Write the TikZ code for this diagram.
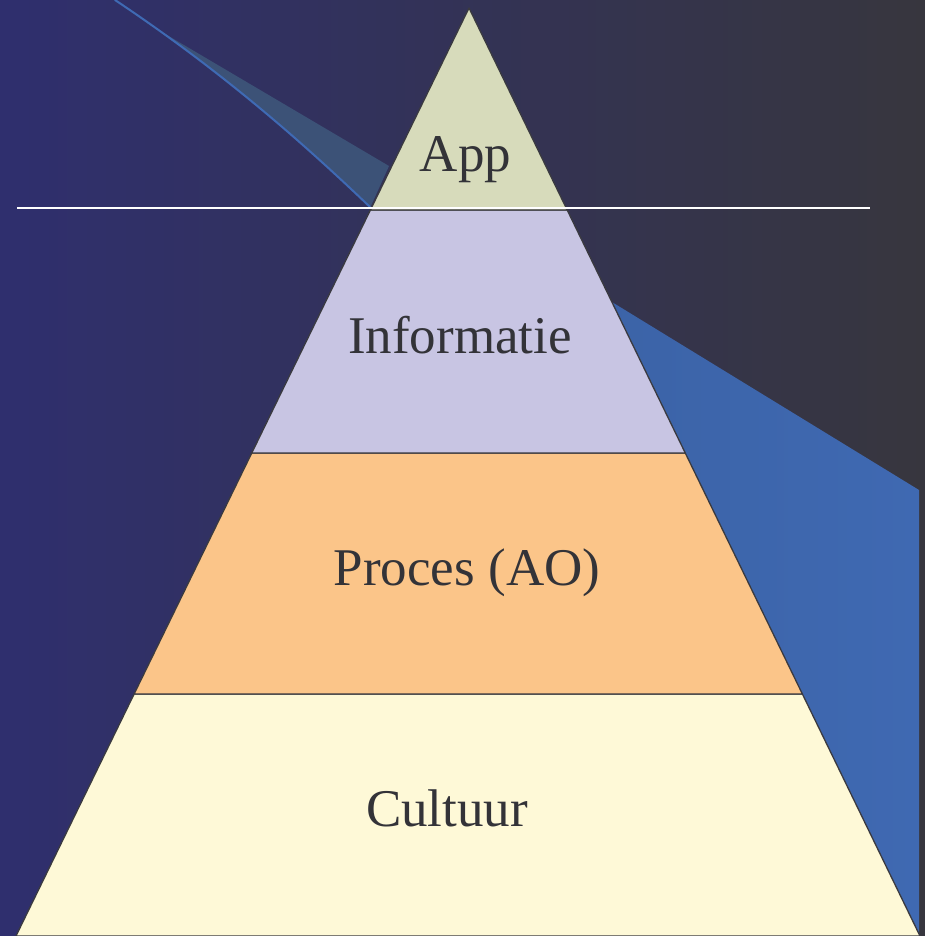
\documentclass[tikz,border=0pt]{standalone}
\usepackage{fontspec}
\setmainfont{Liberation Serif}
\usetikzlibrary{calc}

\definecolor{bgleft}{HTML}{2F2F6E}
\definecolor{bgright}{HTML}{37363E}
\definecolor{swooshblue}{HTML}{3F6AB4}
\definecolor{wedgeblue}{HTML}{3C5277}
\definecolor{sideblueA}{HTML}{3B62A5}
\definecolor{sideblueB}{HTML}{3F69B2}
\definecolor{appfill}{HTML}{D7DBBB}
\definecolor{infofill}{HTML}{C8C5E3}
\definecolor{procfill}{HTML}{FBC589}
\definecolor{cultfill}{HTML}{FEF9D7}
\definecolor{edgegray}{HTML}{3A3A40}
\definecolor{textgray}{HTML}{333338}

\begin{document}
\begin{tikzpicture}[line cap=round,line join=round,x=1pt,y=-1pt,
	tier/.style={draw=edgegray,line width=1.3pt},
	tiertext/.style={text=textgray,inner sep=0pt,anchor=base,font=\fontsize{53}{60}\selectfont}]
		\useasboundingbox (0,0) rectangle (925,936);
		% background
		\shade[left color=bgleft,right color=bgright] (0,0) rectangle (925,936);
		% swoosh top left
		\fill[wedgeblue] (150,25) -- (389,166) -- (370,208) .. controls (300,140) and (220,70) .. (115,0) -- cycle;
		\draw[swooshblue,line width=2pt] (115,0) .. controls (220,70) and (300,140) .. (370,207);
		% blue band right
		\shade[left color=sideblueA,right color=sideblueB] (540,258) -- (919,490) -- (919,936) -- (540,936) -- cycle;
		% pyramid
		\coordinate (top) at (469,8);
		\coordinate (bl) at (16,936);
		\coordinate (br) at (920,936);
		\coordinate (l1) at ($(top)!0.2177!(bl)$);
		\coordinate (r1) at ($(top)!0.2177!(br)$);
		\coordinate (l2) at ($(top)!0.4795!(bl)$);
		\coordinate (r2) at ($(top)!0.4795!(br)$);
		\coordinate (l3) at ($(top)!0.7392!(bl)$);
		\coordinate (r3) at ($(top)!0.7392!(br)$);
		\filldraw[tier,fill=cultfill] (l3) -- (r3) -- (br) -- (bl) -- cycle;
		\filldraw[tier,fill=procfill] (l2) -- (r2) -- (r3) -- (l3) -- cycle;
		\filldraw[tier,fill=infofill] (l1) -- (r1) -- (r2) -- (l2) -- cycle;
		\filldraw[tier,fill=appfill] (top) -- (r1) -- (l1) -- cycle;
		% white rule
		\coordinate (ruleL) at (17,208);
		\coordinate (ruleR) at (870,208);
		\draw[white,line width=1.6pt,line cap=butt] (ruleL) -- (ruleR);
		% labels
		\node[tiertext] (app) at (465.5,171.5) {App};
		\node[tiertext] (info) at (460,353.5) {Informatie};
		\node[tiertext] (proc) at (467,585) {Proces (AO)};
		\node[tiertext] (cult) at (447,826.5) {Cultuur};
	\end{tikzpicture}
\end{document}
